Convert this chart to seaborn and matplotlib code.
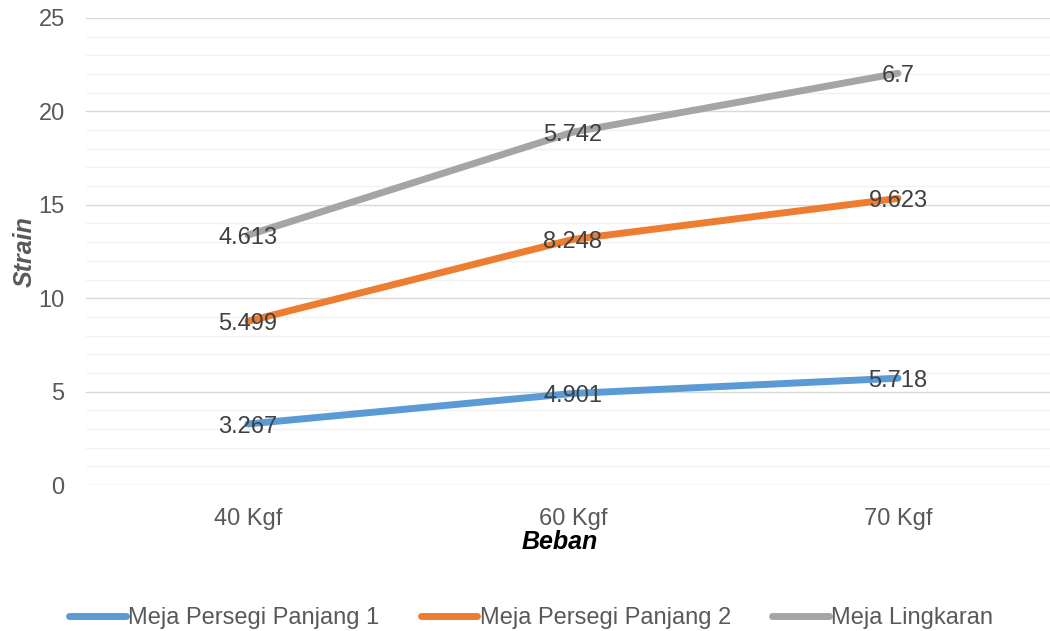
import numpy as np
import pandas as pd
import matplotlib
matplotlib.use("Agg")
import matplotlib.pyplot as plt
from matplotlib.ticker import MultipleLocator
import seaborn as sns

# Beban (load) categories and strain per table type (stacked series)
categories = ["40 Kgf", "60 Kgf", "70 Kgf"]
series_names = ["Meja Persegi Panjang 1", "Meja Persegi Panjang 2", "Meja Lingkaran"]
persegi_1 = [3.267, 4.901, 5.718]
persegi_2 = [5.499, 8.248, 9.623]
lingkaran = [4.613, 5.742, 6.7]
colors = ["#5B9BD5", "#ED7D31", "#A5A5A5"]

sns.set_theme(style="white")
plt.rcParams["font.family"] = ["Liberation Sans", "DejaVu Sans"]
text_color = "#595959"

values = [persegi_1, persegi_2, lingkaran]
stacked = np.cumsum(np.array(values), axis=0)

rows = []
for name, vals, tops in zip(series_names, values, stacked):
    for i, (cat, v, t) in enumerate(zip(categories, vals, tops)):
        rows.append({"Beban": cat, "pos": i, "series": name, "value": v, "top": t})
df = pd.DataFrame(rows)

fig = plt.figure(figsize=(10.5, 6.31), dpi=100)
ax = fig.add_axes([85.5 / 1050, 146 / 631, 975 / 1050, 467 / 631])

lw = 5.0
sns.lineplot(data=df, x="pos", y="top", hue="series", hue_order=series_names,
             palette=colors, linewidth=lw, ax=ax, legend=False,
             solid_capstyle="round", sort=False)

for _, r in df.iterrows():
    ax.annotate(f"{r['value']:g}", (r["pos"], r["top"]), xytext=(0, -3),
                textcoords="offset pixels", ha="center", va="center",
                fontsize=17, color="#404040", zorder=5)

ax.set_xlim(-0.5, 2.5)
ax.set_ylim(0, 25)
ax.set_xticks(range(len(categories)))
ax.set_xticklabels(categories)
ax.yaxis.set_major_locator(MultipleLocator(5))
ax.yaxis.set_minor_locator(MultipleLocator(1))
ax.grid(axis="y", which="major", color="#D9D9D9", linewidth=1.0)
ax.grid(axis="y", which="minor", color="#F2F2F2", linewidth=1.0)
ax.grid(axis="x", visible=False)
ax.set_axisbelow(True)
for s in ax.spines.values():
    s.set_visible(False)
ax.tick_params(axis="both", which="both", length=0, labelsize=17,
               labelcolor=text_color)
ax.tick_params(axis="y", pad=15)
ax.tick_params(axis="x", pad=16.5)

ax.set_xlabel("Beban", fontsize=18, fontweight="bold", fontstyle="italic",
              color="#000000")
ax.set_ylabel("Strain", fontsize=18, fontweight="bold", fontstyle="italic",
              color=text_color)
ax.xaxis.set_label_coords((560 - 85.5) / 975, -45 / 467)
ax.yaxis.set_label_coords(-(85.5 - 37) / 975, 0.5)

handles = [plt.Line2D([], [], color=c, linewidth=lw, solid_capstyle="round")
           for c in colors]
fig.legend(handles, series_names, loc="center", bbox_to_anchor=(0.506, 13 / 631),
           ncol=3, frameon=False, fontsize=17, handlelength=2.4,
           handletextpad=0.1, columnspacing=1.75, labelcolor=text_color)

fig.savefig("out.png", dpi=100)
